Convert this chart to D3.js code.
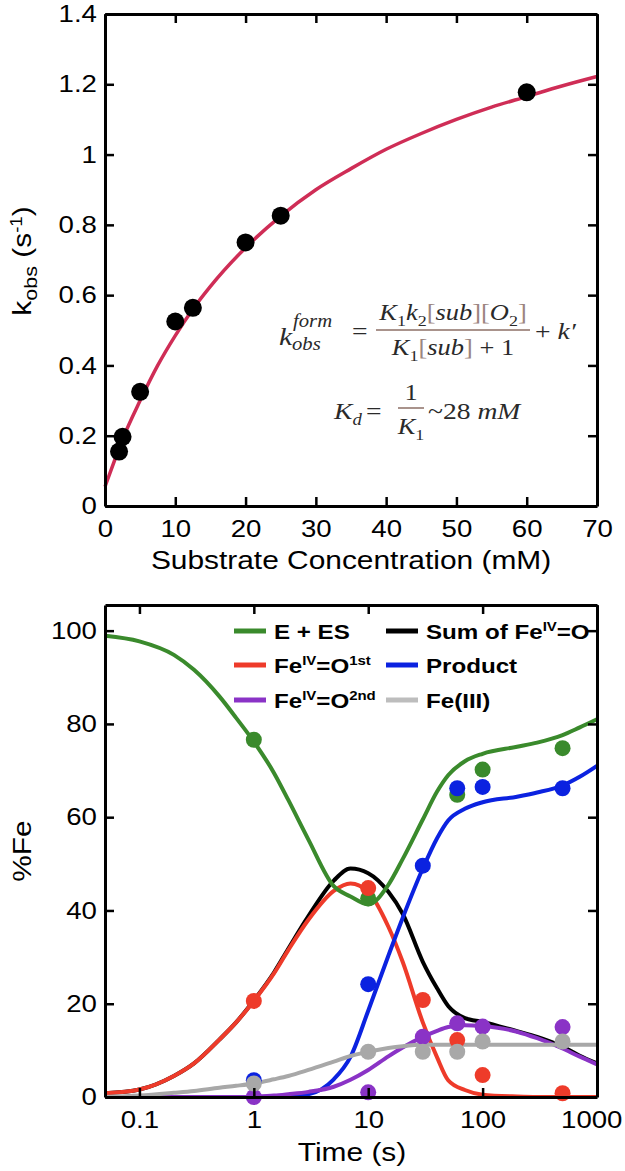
<!DOCTYPE html>
<html>
<head>
<meta charset="utf-8">
<script src="https://cdn.jsdelivr.net/npm/d3@7"></script>
<style>
  body { margin: 0; background: #fff; }
</style>
</head>
<body>
<div id="chart"></div>
<script>
// ---- top panel: kobs vs substrate ----
const substrateConc = [2, 2.5, 5, 10, 12.5, 20, 25, 60];
const kobsValues = [0.155, 0.197, 0.325, 0.525, 0.564, 0.75, 0.826, 1.177];
const fitConc = [0, 1, 2.5, 5, 7.5, 10, 12.5, 15, 20, 25, 30, 35, 40, 45, 50, 55, 60, 65, 70];
const fitKobs = [0.055, 0.11, 0.19, 0.30, 0.40, 0.485, 0.56, 0.625, 0.735, 0.825, 0.90, 0.96, 1.015, 1.06, 1.10, 1.135, 1.165, 1.195, 1.222];
const concTicks = [0, 10, 20, 30, 40, 50, 60, 70];
const kobsTicks = [0, 0.2, 0.4, 0.6, 0.8, 1, 1.2, 1.4];

// ---- bottom panel: %Fe vs time ----
const timePoints = [1, 10, 30, 60, 100, 500];
const esPoints = [76.6, 42.6, null, 64.8, 70.2, 74.8];
const productPoints = [3.6, 24.2, 49.6, 66.2, 66.5, 66.2];
const firstPoints = [20.6, 44.8, 20.8, 12.2, 4.7, 0.8];
const secondPoints = [0, 1.0, 12.9, 15.8, 15.1, 15.0];
const fe3Points = [2.9, 9.7, 9.7, 9.7, 11.9, 11.9];

const fitTime = [0.05, 0.1, 0.2, 0.3, 0.5, 0.7, 1, 1.5, 2, 3, 5, 7, 10, 15, 20, 30, 40, 50, 70, 100, 200, 300, 500, 700, 1000];
const esFit = [98.9, 97.7, 94.8, 91.6, 85.9, 81.3, 76.2, 69.5, 63.7, 55.2, 45.2, 43, 41.3, 45.5, 51, 59.5, 65.5, 69, 72, 73.6, 75.1, 76, 77.6, 79.2, 81];
const sumFit = [0.8, 1.6, 4.5, 7.2, 12.3, 16, 20.7, 26.7, 31.8, 38.8, 46.4, 49, 48, 44, 39.3, 29, 23.3, 19.5, 16.9, 16.1, 14.1, 12.9, 10.8, 8.9, 7.2];
const firstFit = [0.8, 1.6, 4.5, 7.2, 12.3, 16, 20.6, 26.5, 31.5, 38, 44.2, 45.8, 44, 36.5, 29, 16, 8.5, 3.6, 1.5, 0.5, 0.1, 0, 0, 0, 0];
const productFit = [0, 0, 0, 0, 0, 0, 0, 0.1, 0.2, 0.6, 3.8, 8.6, 18.5, 30.3, 38.4, 49, 55.5, 59.3, 61.8, 63.2, 64.4, 65.3, 66.8, 68.6, 71];
const secondFit = [0, 0, 0, 0, 0, 0, 0.1, 0.3, 0.6, 1.1, 2.2, 3.7, 5.8, 8.7, 10.6, 12.9, 14.2, 15, 15.4, 15.2, 14, 12.6, 10.4, 8.7, 7];
const fe3Fit = [0, 0.3, 0.9, 1.3, 2, 2.4, 2.9, 3.8, 4.5, 5.8, 7.6, 8.8, 9.7, 10.5, 10.9, 11.2, 11.2, 11.2, 11.2, 11.2, 11.2, 11.2, 11.2, 11.2, 11.2];
const timeTicks = [0.1, 1, 10, 100, 1000];
const fePctTicks = [0, 20, 40, 60, 80, 100];

const W = 625, H = 1171, S = 492;
const SX = 1.15; // picture text is a little wide
const FONT = "'Liberation Sans', Arial, Helvetica, sans-serif";
const SERIF = "'Liberation Serif', 'Times New Roman', serif";

const svg = d3.select("#chart").append("svg")
  .attr("width", W).attr("height", H)
  .attr("font-family", FONT);

// rich text: parts = [{t, sub, sup, i, c}]
function rich(text, parts, size) {
  let shift = 0;
  parts.forEach(p => {
    let target = 0, fs = size;
    if (p.sup) { target = -size * 0.36; fs = size * (p.fs || 0.62); }
    if (p.sub) { target = size * 0.24; fs = size * (p.fs || 0.68); }
    const ts = text.append("tspan").text(p.t)
      .attr("font-size", fs)
      .attr("dy", target - shift);
    if (p.i) ts.attr("font-style", "italic");
    if (p.c) ts.attr("fill", p.c);
    shift = target;
  });
}

function label(x, y, rot) {
  return svg.append("text")
    .attr("transform", `translate(${x},${y})` + (rot ? ` rotate(${rot})` : "") + ` scale(${SX},1)`);
}

function frame(g, x, y, xTicks, yTicks, xFmt, yFmt) {
  const style = a => {
    a.attr("font-size", 24).attr("font-family", FONT);
    a.select(".domain").attr("stroke-width", 3);
    a.selectAll(".tick line").attr("stroke-width", 2.5);
    a.selectAll(".tick text").attr("transform", `scale(${SX},1)`).attr("fill", "#000");
  };
  g.append("g").attr("class", "x-axis").attr("transform", `translate(0,${S})`)
    .call(d3.axisBottom(x).tickValues(xTicks).tickFormat(xFmt).tickSizeInner(-9).tickSizeOuter(0).tickPadding(14))
    .call(style);
  g.append("g")
    .call(d3.axisTop(x).tickValues(xTicks).tickFormat("").tickSizeInner(-9).tickSizeOuter(0))
    .call(style);
  g.append("g")
    .call(d3.axisLeft(y).tickValues(yTicks).tickFormat(yFmt).tickSizeInner(-9).tickSizeOuter(0).tickPadding(7))
    .call(style);
  g.append("g").attr("transform", `translate(${S},0)`)
    .call(d3.axisRight(y).tickValues(yTicks).tickFormat("").tickSizeInner(-9).tickSizeOuter(0))
    .call(style);
}

// ================= top chart =================
const g1 = svg.append("g").attr("transform", "translate(105,14)");
const x1 = d3.scaleLinear().domain([0, 70]).range([0, S]);
const y1 = d3.scaleLinear().domain([0, 1.4]).range([S, 0]);

g1.append("path")
  .datum(fitConc.map((c, i) => [c, fitKobs[i]]))
  .attr("fill", "none")
  .attr("stroke", "#cf2d56")
  .attr("stroke-width", 3.5)
  .attr("d", d3.line().x(d => x1(d[0])).y(d => y1(d[1])).curve(d3.curveMonotoneX));

g1.selectAll("circle.pt")
  .data(substrateConc.map((c, i) => [c, kobsValues[i]]))
  .enter().append("circle")
  .attr("class", "pt")
  .attr("cx", d => x1(d[0]))
  .attr("cy", d => y1(d[1]))
  .attr("r", 9)
  .attr("fill", "#000");

frame(g1, x1, y1, concTicks, kobsTicks, d => String(d), d => String(d));

label(351, 569).attr("text-anchor", "middle").attr("font-size", 26).text("Substrate Concentration (mM)");
rich(label(31, 261, -90).attr("text-anchor", "middle"),
  [{t: "k"}, {t: "obs", sub: 1, fs: 0.72}, {t: " (s"}, {t: "-1", sup: 1, fs: 0.62}, {t: ")"}], 26);

// equation
const EQ = "#2a2a2a", BR = "#9c8580", FR = "#8c6f66";
function eq(x, y, anchor, parts, size) {
  const t = label(x, y).attr("font-family", SERIF).attr("fill", EQ).attr("text-anchor", anchor || "start");
  rich(t, parts, size || 23);
  return t;
}
eq(279, 345, "start", [{t: "k", i: 1}], 26);
eq(293, 327, "start", [{t: "form", i: 1}], 18);
eq(292, 350, "start", [{t: "obs", i: 1}], 18);
eq(352, 339, "start", [{t: "="}], 24);
eq(453, 320, "middle", [{t: "K", i: 1}, {t: "1", sub: 1}, {t: "k", i: 1}, {t: "2", sub: 1},
  {t: "[", c: BR}, {t: "sub", i: 1}, {t: "]", c: BR}, {t: "[", c: BR}, {t: "O", i: 1}, {t: "2", sub: 1}, {t: "]", c: BR}]);
svg.append("line").attr("x1", 376).attr("x2", 530).attr("y1", 330).attr("y2", 330).attr("stroke", FR).attr("stroke-width", 1.5);
eq(453, 355, "middle", [{t: "K", i: 1}, {t: "1", sub: 1}, {t: "[", c: BR}, {t: "sub", i: 1}, {t: "]", c: BR}, {t: " + 1"}]);
eq(535, 339, "start", [{t: "+ "}, {t: "k′", i: 1}], 24);

eq(334, 419, "start", [{t: "K", i: 1}, {t: "d", sub: 1, i: 1}], 24);
eq(366, 419, "start", [{t: "="}], 24);
eq(411, 400, "middle", [{t: "1"}], 23);
svg.append("line").attr("x1", 398).attr("x2", 424).attr("y1", 408).attr("y2", 408).attr("stroke", FR).attr("stroke-width", 1.5);
eq(411, 434, "middle", [{t: "K", i: 1}, {t: "1", sub: 1}], 23);
eq(428, 419, "start", [{t: "~28 "}, {t: "mM", i: 1}], 24);

// ================= bottom chart =================
const g2 = svg.append("g").attr("transform", "translate(105,605)");
const x2 = d3.scaleLog().domain([0.05, 1000]).range([0, S]);
const y2 = d3.scaleLinear().domain([0, 105.5]).range([S, 0]);

const series = [
  {name: "sum", color: "#000000", fit: sumFit, pts: null},
  {name: "first", color: "#ee3b2a", fit: firstFit, pts: firstPoints},
  {name: "product", color: "#0b22e0", fit: productFit, pts: productPoints},
  {name: "second", color: "#8a33c6", fit: secondFit, pts: secondPoints},
  {name: "fe3", color: "#a8a8a8", fit: fe3Fit, pts: fe3Points},
  {name: "es", color: "#3a8a2c", fit: esFit, pts: esPoints}
];
const line2 = d3.line().x(d => x2(d[0])).y(d => y2(d[1])).curve(d3.curveMonotoneX);

g2.selectAll("path.fit")
  .data(series)
  .enter().append("path")
  .attr("class", "fit")
  .attr("fill", "none")
  .attr("stroke", d => d.color)
  .attr("stroke-width", 4)
  .attr("d", d => line2(fitTime.map((t, i) => [t, d.fit[i]])));

// dots: green, blue, red, purple, gray
const dotOrder = ["es", "product", "first", "second", "fe3"];
dotOrder.forEach(n => {
  const s = series.find(d => d.name === n);
  g2.selectAll("circle." + n)
    .data(timePoints.map((t, i) => [t, s.pts[i]]).filter(d => d[1] !== null))
    .enter().append("circle")
    .attr("class", n)
    .attr("cx", d => x2(d[0]))
    .attr("cy", d => y2(d[1]))
    .attr("r", 8)
    .attr("fill", s.color);
});

frame(g2, x2, y2, timeTicks, fePctTicks, d => String(d), d => String(d));
// the last tick label sits against the right edge; pull it in so it stays whole
g2.select(".x-axis").selectAll(".tick text").filter(d => d === 1000).attr("dx", -5);

label(352, 1161).attr("text-anchor", "middle").attr("font-size", 26).text("Time (s)");
label(31, 851, -90).attr("text-anchor", "middle").attr("font-size", 26).text("%Fe");

// legend
const legendItems = [
  {color: "#3a8a2c", parts: [{t: "E + ES"}]},
  {color: "#000000", parts: [{t: "Sum of Fe"}, {t: "IV", sup: 1}, {t: "=O"}]},
  {color: "#ee3b2a", parts: [{t: "Fe"}, {t: "IV", sup: 1}, {t: "=O"}, {t: "1st", sup: 1}]},
  {color: "#0b22e0", parts: [{t: "Product"}]},
  {color: "#8a33c6", parts: [{t: "Fe"}, {t: "IV", sup: 1}, {t: "=O"}, {t: "2nd", sup: 1}]},
  {color: "#bdbdbd", parts: [{t: "Fe(III)"}]}
];
const legCols = [234, 386], legRows = [631, 665, 700];
legendItems.forEach((d, i) => {
  const lx = legCols[i % 2], ly = legRows[Math.floor(i / 2)];
  svg.append("line").attr("x1", lx).attr("x2", lx + 32).attr("y1", ly).attr("y2", ly)
    .attr("stroke", d.color).attr("stroke-width", 5);
  const t = label(lx + 40, ly + 8).attr("font-weight", "bold");
  rich(t, d.parts, 21);
});
</script>
</body>
</html>
